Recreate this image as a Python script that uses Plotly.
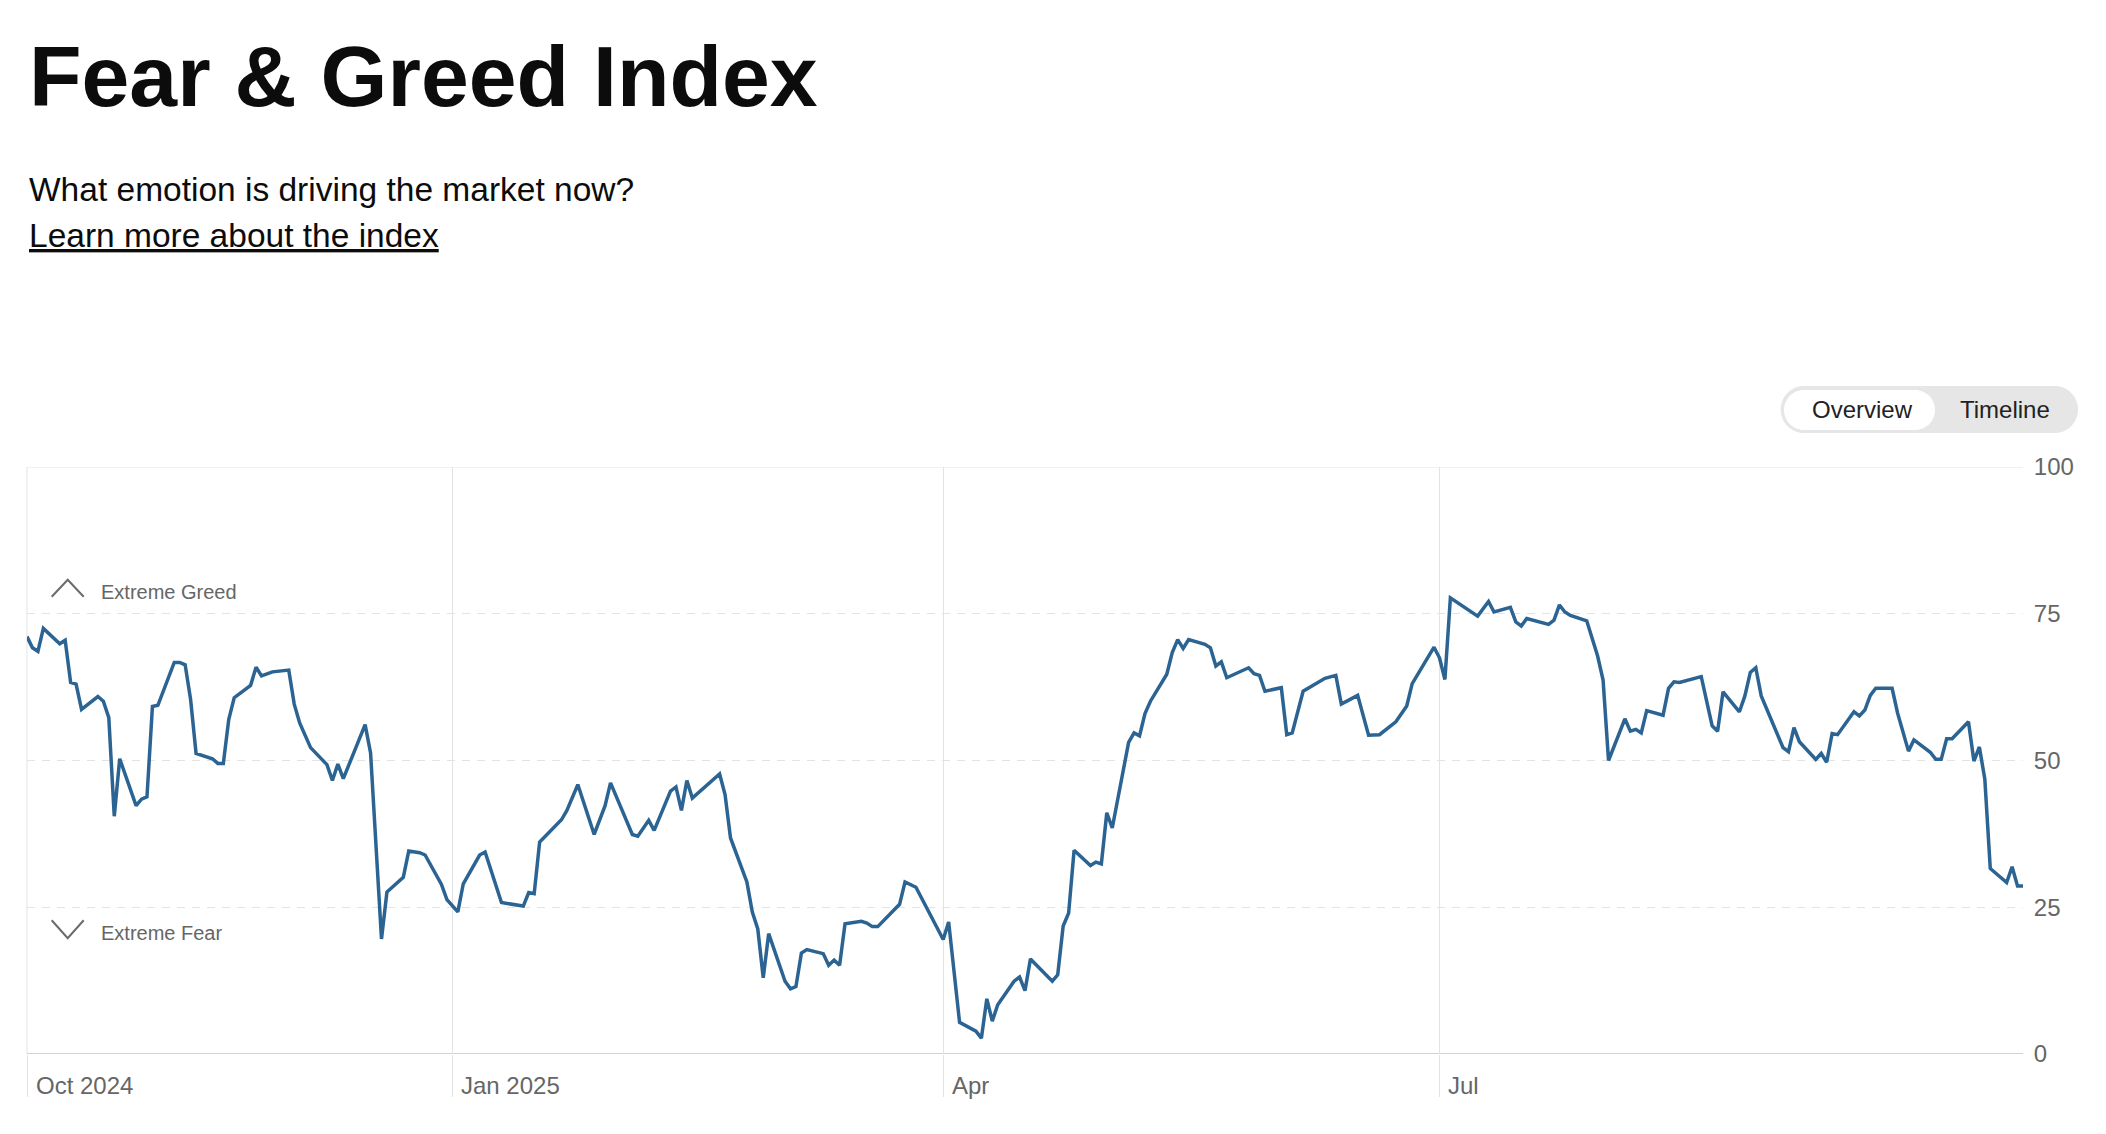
import plotly.graph_objects as go

# ---------------- data ----------------
dates = [
    "2024-10-15", "2024-10-16", "2024-10-17", "2024-10-18", "2024-10-21", "2024-10-22",
    "2024-10-23", "2024-10-24", "2024-10-25", "2024-10-28", "2024-10-29", "2024-10-30",
    "2024-10-31", "2024-11-01", "2024-11-04", "2024-11-05", "2024-11-06", "2024-11-07",
    "2024-11-08", "2024-11-11", "2024-11-12", "2024-11-13", "2024-11-14", "2024-11-15",
    "2024-11-18", "2024-11-19", "2024-11-20", "2024-11-21", "2024-11-22", "2024-11-25",
    "2024-11-26", "2024-11-27", "2024-11-29", "2024-12-02", "2024-12-03", "2024-12-04",
    "2024-12-06", "2024-12-09", "2024-12-10", "2024-12-11", "2024-12-12", "2024-12-16",
    "2024-12-17", "2024-12-19", "2024-12-20", "2024-12-23", "2024-12-24", "2024-12-26",
    "2024-12-27", "2024-12-30", "2024-12-31", "2025-01-02", "2025-01-03", "2025-01-06",
    "2025-01-07", "2025-01-08", "2025-01-10", "2025-01-14", "2025-01-15", "2025-01-16",
    "2025-01-17", "2025-01-21", "2025-01-22", "2025-01-24", "2025-01-27", "2025-01-29",
    "2025-01-30", "2025-02-03", "2025-02-04", "2025-02-06", "2025-02-07", "2025-02-10",
    "2025-02-11", "2025-02-12", "2025-02-13", "2025-02-14", "2025-02-19", "2025-02-20",
    "2025-02-21", "2025-02-24", "2025-02-25", "2025-02-26", "2025-02-27", "2025-02-28",
    "2025-03-03", "2025-03-04", "2025-03-05", "2025-03-06", "2025-03-07", "2025-03-10",
    "2025-03-11", "2025-03-12", "2025-03-13", "2025-03-14", "2025-03-17", "2025-03-18",
    "2025-03-19", "2025-03-20", "2025-03-24", "2025-03-25", "2025-03-27", "2025-04-01",
    "2025-04-02", "2025-04-04", "2025-04-07", "2025-04-08", "2025-04-09", "2025-04-10",
    "2025-04-11", "2025-04-14", "2025-04-15", "2025-04-16", "2025-04-17", "2025-04-21",
    "2025-04-22", "2025-04-23", "2025-04-24", "2025-04-25", "2025-04-28", "2025-04-29",
    "2025-04-30", "2025-05-01", "2025-05-02", "2025-05-05", "2025-05-06", "2025-05-07",
    "2025-05-08", "2025-05-09", "2025-05-12", "2025-05-13", "2025-05-14", "2025-05-15",
    "2025-05-16", "2025-05-19", "2025-05-20", "2025-05-21", "2025-05-22", "2025-05-23",
    "2025-05-27", "2025-05-28", "2025-05-29", "2025-05-30", "2025-06-02", "2025-06-03",
    "2025-06-04", "2025-06-06", "2025-06-10", "2025-06-12", "2025-06-13", "2025-06-16",
    "2025-06-18", "2025-06-20", "2025-06-23", "2025-06-25", "2025-06-26", "2025-06-30",
    "2025-07-01", "2025-07-02", "2025-07-03", "2025-07-08", "2025-07-10", "2025-07-11",
    "2025-07-14", "2025-07-15", "2025-07-16", "2025-07-17", "2025-07-21", "2025-07-22",
    "2025-07-23", "2025-07-24", "2025-07-25", "2025-07-28", "2025-07-29", "2025-07-30",
    "2025-07-31", "2025-08-01", "2025-08-04", "2025-08-05", "2025-08-06", "2025-08-07",
    "2025-08-08", "2025-08-11", "2025-08-12", "2025-08-13", "2025-08-14", "2025-08-18",
    "2025-08-20", "2025-08-21", "2025-08-22", "2025-08-25", "2025-08-26", "2025-08-27",
    "2025-08-28", "2025-08-29", "2025-09-02", "2025-09-03", "2025-09-04", "2025-09-05",
    "2025-09-08", "2025-09-09", "2025-09-10", "2025-09-11", "2025-09-12", "2025-09-15",
    "2025-09-16", "2025-09-17", "2025-09-18", "2025-09-19", "2025-09-22", "2025-09-23",
    "2025-09-25", "2025-09-26", "2025-09-29", "2025-09-30", "2025-10-01", "2025-10-02",
    "2025-10-03", "2025-10-06", "2025-10-07", "2025-10-08", "2025-10-09", "2025-10-10",
    "2025-10-13", "2025-10-14", "2025-10-15", "2025-10-16",
]

fg_values = [
    71.1, 69.2, 68.6, 72.5, 69.9, 70.5,
    63.3, 63.0, 58.7, 60.9, 60.1, 57.3,
    40.5, 50.3, 42.3, 43.4, 43.8, 59.2,
    59.4, 66.7, 66.7, 66.3, 60.4, 51.2,
    50.3, 49.5, 49.5, 57.0, 60.7, 62.8,
    65.9, 64.4, 65.1, 65.4, 59.6, 56.4,
    52.2, 49.3, 46.6, 49.4, 46.9, 56.1,
    51.3, 19.6, 27.6, 30.1, 34.6, 34.3,
    33.9, 28.9, 26.3, 24.2, 29.0, 33.9,
    34.4, 31.5, 25.8, 25.2, 27.5, 27.3,
    36.1, 39.9, 41.5, 45.9, 37.4, 42.3,
    46.2, 37.4, 37.1, 39.8, 38.1, 44.8,
    45.5, 41.5, 46.6, 43.6, 47.7, 44.2,
    36.8, 29.3, 24.2, 21.3, 13.0, 20.5,
    12.4, 11.1, 11.5, 17.2, 17.8, 17.1,
    15.1, 16.0, 15.1, 22.2, 22.6, 22.3,
    21.7, 21.7, 25.5, 29.3, 28.4, 19.5,
    22.5, 5.4, 3.9, 2.7, 9.4, 5.6,
    8.4, 12.4, 13.1, 10.8, 16.2, 12.4,
    13.5, 21.8, 24.0, 34.7, 32.1, 32.7,
    32.4, 41.1, 38.5, 53.1, 54.7, 54.2,
    58.0, 60.1, 64.7, 68.4, 70.6, 69.1,
    70.6, 69.8, 69.2, 66.1, 66.8, 64.1,
    65.8, 64.8, 64.5, 61.8, 62.4, 54.4,
    54.7, 61.8, 64.0, 64.5, 59.6, 61.1,
    54.3, 54.4, 56.6, 59.3, 63.1, 69.3,
    67.5, 63.8, 77.7, 74.6, 77.1, 75.3,
    76.1, 73.6, 72.9, 74.2, 73.2, 73.9,
    76.5, 75.3, 74.7, 73.8, 70.8, 67.8,
    63.7, 50.0, 57.1, 55.0, 55.3, 54.7,
    58.5, 57.7, 62.3, 63.4, 63.3, 64.3,
    55.9, 55.0, 61.7, 58.3, 61.0, 65.0,
    65.8, 61.0, 52.2, 51.5, 55.6, 53.2,
    50.2, 51.2, 49.7, 54.6, 54.4, 58.3,
    57.6, 58.6, 61.1, 62.3, 62.3, 58.1,
    51.6, 53.5, 51.4, 50.2, 50.2, 53.7,
    53.7, 56.6, 49.9, 52.3, 46.8, 31.6,
    29.2, 31.9, 28.6, 28.6,
]

x_tick_dates = ["2024-10-15", "2025-01-01", "2025-04-01", "2025-07-01"]
x_tick_labels = ["Oct 2024", "Jan 2025", "Apr", "Jul"]
y_tick_values = [0, 25, 50, 75, 100]
y_tick_labels = ["0", "25", "50", "75", "100"]
zone_labels = ["Extreme Greed", "Extreme Fear"]
zone_levels = [75, 25]
x_range = ["2024-10-15", "2025-10-16"]

# ---------------- styling ----------------
LINE = "#2b6493"
GRID = "#e3e3e3"
GREY = "#666666"
FONT = "Liberation Sans, Arial, sans-serif"
W, H = 2106, 1134
ML, MR, MT, MB = 27, 83, 467, 80

fig = go.Figure()
fig.add_trace(go.Scatter(
    x=dates, y=fg_values, mode="lines",
    line=dict(color=LINE, width=3.5),
    hoverinfo="skip", showlegend=False,
))

fig.update_layout(
    width=W, height=H,
    margin=dict(l=ML, r=MR, t=MT, b=MB, pad=0),
    paper_bgcolor="white", plot_bgcolor="white",
    showlegend=False,
    font=dict(family=FONT, color="#111111"),
)

fig.update_xaxes(
    type="date", range=x_range,
    tickvals=x_tick_dates, showticklabels=False,
    showgrid=True, gridcolor=GRID, gridwidth=1,
    ticks="outside", ticklen=42, tickwidth=1, tickcolor=GRID,
    zeroline=False, showline=False, fixedrange=True,
)
fig.update_yaxes(
    range=[0, 100], side="right",
    tickvals=y_tick_values, ticktext=y_tick_labels,
    showgrid=True, gridcolor=GRID, gridwidth=1, griddash="8px,7px",
    zeroline=False, showline=False,
    ticks="outside", ticklen=5, tickcolor="rgba(0,0,0,0)",
    tickfont=dict(family=FONT, size=24, color=GREY),
    fixedrange=True,
)

# frame lines
fig.add_shape(type="line", xref="paper", yref="y", x0=0, x1=1, y0=100, y1=100,
              line=dict(color=GRID, width=1), layer="below")
fig.add_shape(type="line", xref="paper", yref="paper", x0=0, x1=0, y0=0, y1=1,
              line=dict(color=GRID, width=1), layer="below")
fig.add_shape(type="line", xref="paper", yref="y", x0=0, x1=1, y0=0, y1=0,
              line=dict(color="#d2d2d2", width=2), layer="below")

# x tick labels (left-aligned next to their grid line)
for d, lab in zip(x_tick_dates, x_tick_labels):
    fig.add_annotation(x=d, xref="x", y=0, yref="paper", yshift=-31,
                       text=lab, showarrow=False, xanchor="left", yanchor="middle",
                       xshift=7, font=dict(family=FONT, size=24, color=GREY))

# zone markers (chevrons) and labels
chev_up = "M 24.7,17 L 40.7,34 L 56.7,17"
chev_dn = "M 24.7,-13 L 40.7,-31 L 56.7,-13"
for lvl, lab, path, ysh in zip(zone_levels, zone_labels, [chev_up, chev_dn], [22, -26]):
    fig.add_shape(type="path", xref="paper", xsizemode="pixel", xanchor=0,
                  yref="y", ysizemode="pixel", yanchor=lvl, path=path,
                  line=dict(color="#6b6b6b", width=2))
    fig.add_annotation(x=0, xref="paper", xshift=72, y=lvl, yref="y", yshift=ysh,
                       text=lab, showarrow=False, xanchor="left", yanchor="middle",
                       font=dict(family=FONT, size=20, color=GREY))


def pill(x0, x1, y0, y1):
    r = (y1 - y0) / 2.0
    ym = (y0 + y1) / 2.0
    k = 0.5523 * r
    return (f"M {x0 + r},{y0} L {x1 - r},{y0} "
            f"C {x1 - r + k},{y0} {x1},{ym - k} {x1},{ym} "
            f"C {x1},{ym + k} {x1 - r + k},{y1} {x1 - r},{y1} "
            f"L {x0 + r},{y1} "
            f"C {x0 + r - k},{y1} {x0},{ym + k} {x0},{ym} "
            f"C {x0},{ym - k} {x0 + r - k},{y0} {x0 + r},{y0} Z")


# Overview / Timeline toggle
fig.add_shape(type="path", xref="paper", xsizemode="pixel", xanchor=1,
              yref="paper", ysizemode="pixel", yanchor=1,
              path=pill(-242.3, 55.0, 34.0, 81.0),
              fillcolor="#e6e6e6", line=dict(width=0))
fig.add_shape(type="path", xref="paper", xsizemode="pixel", xanchor=1,
              yref="paper", ysizemode="pixel", yanchor=1,
              path=pill(-239.0, -88.0, 37.0, 77.0),
              fillcolor="#ffffff", line=dict(width=0))
for lab, xs in [("Overview", -161), ("Timeline", -18.3)]:
    fig.add_annotation(x=1, xref="paper", xshift=xs, y=1, yref="paper", yshift=58,
                       text=lab, showarrow=False, xanchor="center", yanchor="middle",
                       font=dict(family=FONT, size=24, color="#222222"))

# header texts
fig.add_annotation(x=0, xref="paper", y=1, yref="paper", yshift=391,
                   text="Fear & Greed Index", showarrow=False,
                   xanchor="left", yanchor="middle",
                   font=dict(family=FONT, size=86, color="#0c0c0c", weight=700))
fig.add_annotation(x=0, xref="paper", y=1, yref="paper", yshift=278,
                   text="What emotion is driving the market now?", showarrow=False,
                   xanchor="left", yanchor="middle",
                   font=dict(family=FONT, size=33.5, color="#0c0c0c"))
fig.add_annotation(x=0, xref="paper", y=1, yref="paper", yshift=232,
                   text="Learn more about the index", showarrow=False,
                   xanchor="left", yanchor="middle",
                   font=dict(family=FONT, size=33.5, color="#0c0c0c", lineposition="under"))

fig.write_html("out.html")
